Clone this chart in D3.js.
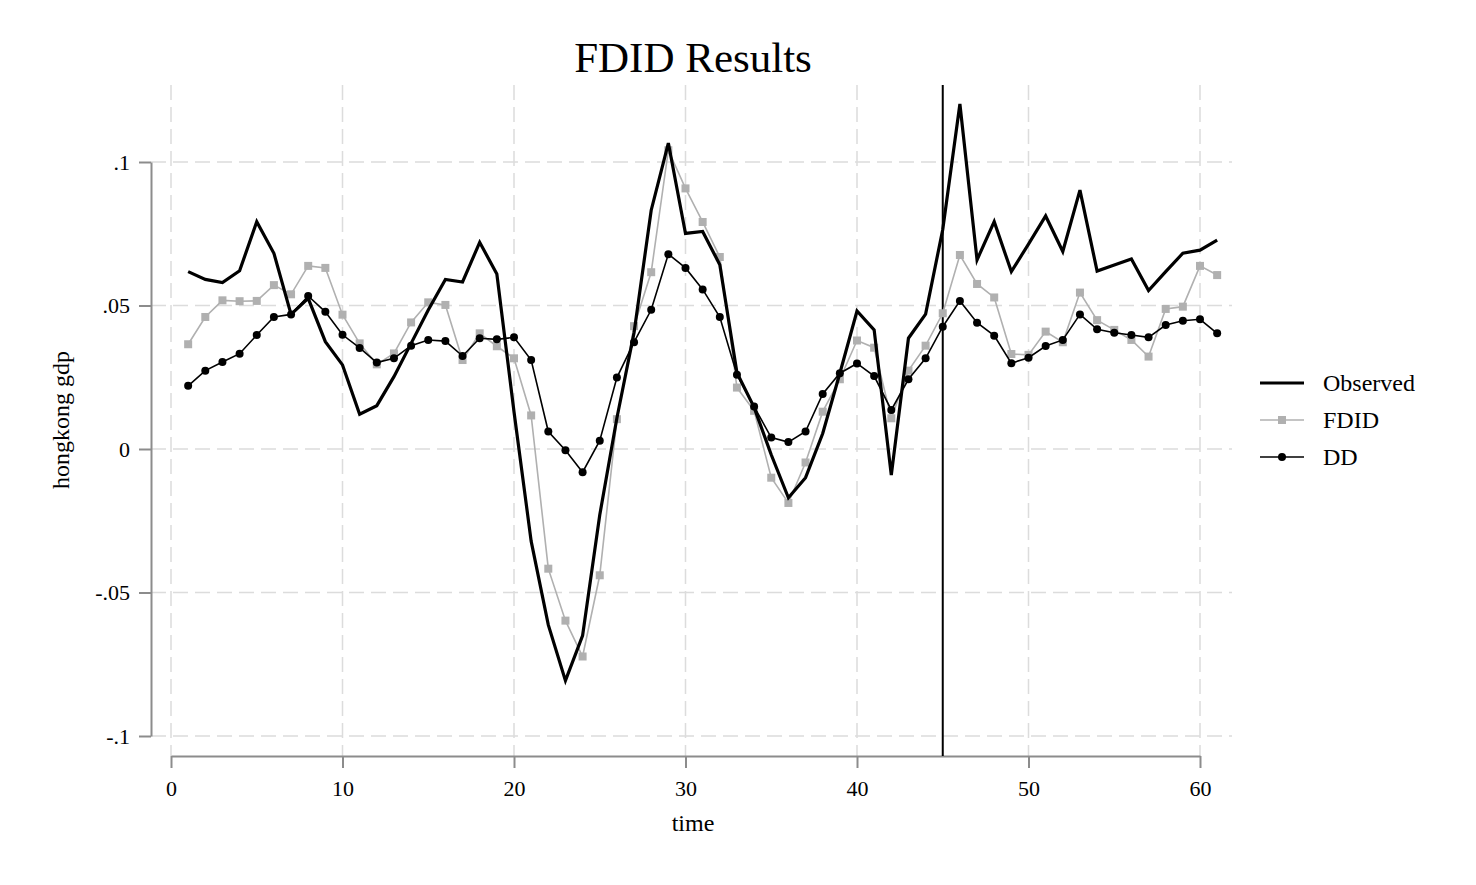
<!DOCTYPE html>
<html>
<head>
<meta charset="utf-8">
<script src="https://cdn.jsdelivr.net/npm/d3@7"></script>
<style>
  html, body { margin: 0; padding: 0; background: #fff; }
  svg { display: block; font-family: "Liberation Serif", "Times New Roman", serif; }
</style>
</head>
<body>
<div id="root"></div>
<script>
// ——— données
const time = d3.range(1, 62);
const observed = [
  0.0618, 0.0591, 0.0580, 0.0621, 0.0792, 0.0682, 0.0469, 0.0525, 0.0374, 0.0293,
  0.0121, 0.0151, 0.0252, 0.0368, 0.0484, 0.0591, 0.0582, 0.0720, 0.0610, 0.0130,
  -0.0321, -0.0613, -0.0807, -0.0650, -0.0230, 0.0108, 0.0405, 0.0832, 0.1066, 0.0751,
  0.0758, 0.0642, 0.0266, 0.0145, -0.0020, -0.0170, -0.0100, 0.0054, 0.0264, 0.0481,
  0.0415, -0.0091, 0.0386, 0.0470, 0.0765, 0.1202, 0.0659, 0.0792, 0.0618, 0.0714,
  0.0812, 0.0688, 0.0902, 0.0620, 0.0641, 0.0662, 0.0552, 0.0618, 0.0682, 0.0693,
  0.0728
];
const fdid = [
  0.0365, 0.0460, 0.0518, 0.0515, 0.0516, 0.0571, 0.0539, 0.0638, 0.0631, 0.0468,
  0.0368, 0.0295, 0.0333, 0.0441, 0.0511, 0.0502, 0.0310, 0.0403, 0.0358, 0.0316,
  0.0117, -0.0417, -0.0598, -0.0723, -0.0440, 0.0104, 0.0428, 0.0616, 0.1041, 0.0908,
  0.0791, 0.0669, 0.0214, 0.0133, -0.0100, -0.0188, -0.0047, 0.0130, 0.0243, 0.0378,
  0.0353, 0.0107, 0.0273, 0.0360, 0.0473, 0.0676, 0.0575, 0.0528, 0.0331, 0.0328,
  0.0409, 0.0372, 0.0545, 0.0449, 0.0415, 0.0380, 0.0322, 0.0488, 0.0496, 0.0638,
  0.0606
];
const dd = [
  0.0220, 0.0273, 0.0303, 0.0332, 0.0397, 0.0460, 0.0469, 0.0533, 0.0478, 0.0398,
  0.0352, 0.0301, 0.0316, 0.0360, 0.0380, 0.0376, 0.0324, 0.0386, 0.0382, 0.0389,
  0.0310, 0.0061, -0.0004, -0.0081, 0.0029, 0.0249, 0.0372, 0.0485, 0.0679, 0.0631,
  0.0556, 0.0460, 0.0259, 0.0148, 0.0040, 0.0024, 0.0061, 0.0192, 0.0264, 0.0298,
  0.0254, 0.0136, 0.0243, 0.0316, 0.0426, 0.0516, 0.0440, 0.0395, 0.0299, 0.0318,
  0.0359, 0.0380, 0.0469, 0.0417, 0.0405, 0.0397, 0.0389, 0.0432, 0.0447, 0.0452,
  0.0403
];
const xTicks = [0, 10, 20, 30, 40, 50, 60];
const yTicks = [-0.1, -0.05, 0, 0.05, 0.1];
const yTickLabels = ["-.1", "-.05", "0", ".05", ".1"];
const treatTime = 45;
const seriesNames = ["Observed", "FDID", "DD"];

// ——— mise en page
const width = 1476, height = 885;
const svg = d3.select("#root").append("svg")
  .attr("width", width).attr("height", height);

const x = d3.scaleLinear().domain([0, 60]).range([171, 1200]);
const y = d3.scaleLinear().domain([-0.1, 0.1]).range([736, 162]);
const plotTop = 85, plotRight = 1232, xAxisY = 756, yAxisX = 151;

const gridColor = "#dcdcdc";
const axisColor = "#8c8c8c";
const gray = "#b0b0b0";

// titre
svg.append("text")
  .attr("x", 693).attr("y", 72)
  .attr("text-anchor", "middle")
  .attr("font-size", 43)
  .text("FDID Results");

// grille
svg.append("g").selectAll("line")
  .data(yTicks).join("line")
  .attr("x1", yAxisX).attr("x2", plotRight)
  .attr("y1", d => y(d)).attr("y2", d => y(d))
  .attr("stroke", gridColor).attr("stroke-width", 1.5)
  .attr("stroke-dasharray", "15,7");

svg.append("g").selectAll("line")
  .data(xTicks).join("line")
  .attr("x1", d => x(d)).attr("x2", d => x(d))
  .attr("y1", plotTop).attr("y2", xAxisY)
  .attr("stroke", gridColor).attr("stroke-width", 1.5)
  .attr("stroke-dasharray", "15,7");

// axe Y
const yAxis = svg.append("g")
  .attr("transform", `translate(${yAxisX},0)`)
  .call(d3.axisLeft(y).tickValues(yTicks)
    .tickFormat((d, i) => yTickLabels[i])
    .tickSize(12).tickSizeOuter(0).tickPadding(9));
yAxis.select(".domain").attr("stroke", axisColor).attr("stroke-width", 2);
yAxis.selectAll(".tick line").attr("stroke", axisColor).attr("stroke-width", 2);
yAxis.selectAll(".tick text")
  .attr("font-size", 22).attr("fill", "#000")
  .attr("font-family", "Liberation Serif, serif");

// axe X
const xAxis = svg.append("g")
  .attr("transform", `translate(0,${xAxisY})`)
  .call(d3.axisBottom(x).tickValues(xTicks)
    .tickSize(12).tickSizeOuter(0).tickPadding(12));
xAxis.select(".domain").attr("stroke", axisColor).attr("stroke-width", 2);
xAxis.selectAll(".tick line").attr("stroke", axisColor).attr("stroke-width", 2);
xAxis.selectAll(".tick text")
  .attr("font-size", 22).attr("fill", "#000")
  .attr("font-family", "Liberation Serif, serif");

// titres d'axes
svg.append("text")
  .attr("x", 693).attr("y", 831)
  .attr("text-anchor", "middle").attr("font-size", 24)
  .text("time");
svg.append("text")
  .attr("transform", "translate(69,420) rotate(-90)")
  .attr("text-anchor", "middle").attr("font-size", 24)
  .text("hongkong gdp");

// ligne de traitement
svg.append("line")
  .attr("x1", x(treatTime)).attr("x2", x(treatTime))
  .attr("y1", plotTop).attr("y2", xAxisY)
  .attr("stroke", "#000").attr("stroke-width", 2);

// séries
const line = vals => d3.line()
  .x((d, i) => x(time[i]))
  .y(d => y(d))(vals);

svg.append("path").attr("d", line(fdid))
  .attr("fill", "none").attr("stroke", gray).attr("stroke-width", 1.6);
svg.append("g").selectAll("rect")
  .data(fdid).join("rect")
  .attr("x", (d, i) => x(time[i]) - 4).attr("y", d => y(d) - 4)
  .attr("width", 8).attr("height", 8)
  .attr("fill", gray);

svg.append("path").attr("d", line(dd))
  .attr("fill", "none").attr("stroke", "#000").attr("stroke-width", 1.6);
svg.append("g").selectAll("circle")
  .data(dd).join("circle")
  .attr("cx", (d, i) => x(time[i])).attr("cy", d => y(d))
  .attr("r", 4).attr("fill", "#000");

svg.append("path").attr("d", line(observed))
  .attr("fill", "none").attr("stroke", "#000").attr("stroke-width", 3.2)
  .attr("stroke-linejoin", "miter");

// légende
const legend = svg.append("g");
const legY = [383, 420, 457];
legend.selectAll("text")
  .data(seriesNames).join("text")
  .attr("x", 1323).attr("y", (d, i) => legY[i] + 8)
  .attr("font-size", 24)
  .text(d => d);
legend.append("line")
  .attr("x1", 1260).attr("x2", 1304).attr("y1", legY[0]).attr("y2", legY[0])
  .attr("stroke", "#000").attr("stroke-width", 3.2);
legend.append("line")
  .attr("x1", 1260).attr("x2", 1304).attr("y1", legY[1]).attr("y2", legY[1])
  .attr("stroke", gray).attr("stroke-width", 1.6);
legend.append("rect")
  .attr("x", 1282 - 4).attr("y", legY[1] - 4).attr("width", 8).attr("height", 8)
  .attr("fill", gray);
legend.append("line")
  .attr("x1", 1260).attr("x2", 1304).attr("y1", legY[2]).attr("y2", legY[2])
  .attr("stroke", "#000").attr("stroke-width", 1.6);
legend.append("circle")
  .attr("cx", 1282).attr("cy", legY[2]).attr("r", 4).attr("fill", "#000");
</script>
</body>
</html>
